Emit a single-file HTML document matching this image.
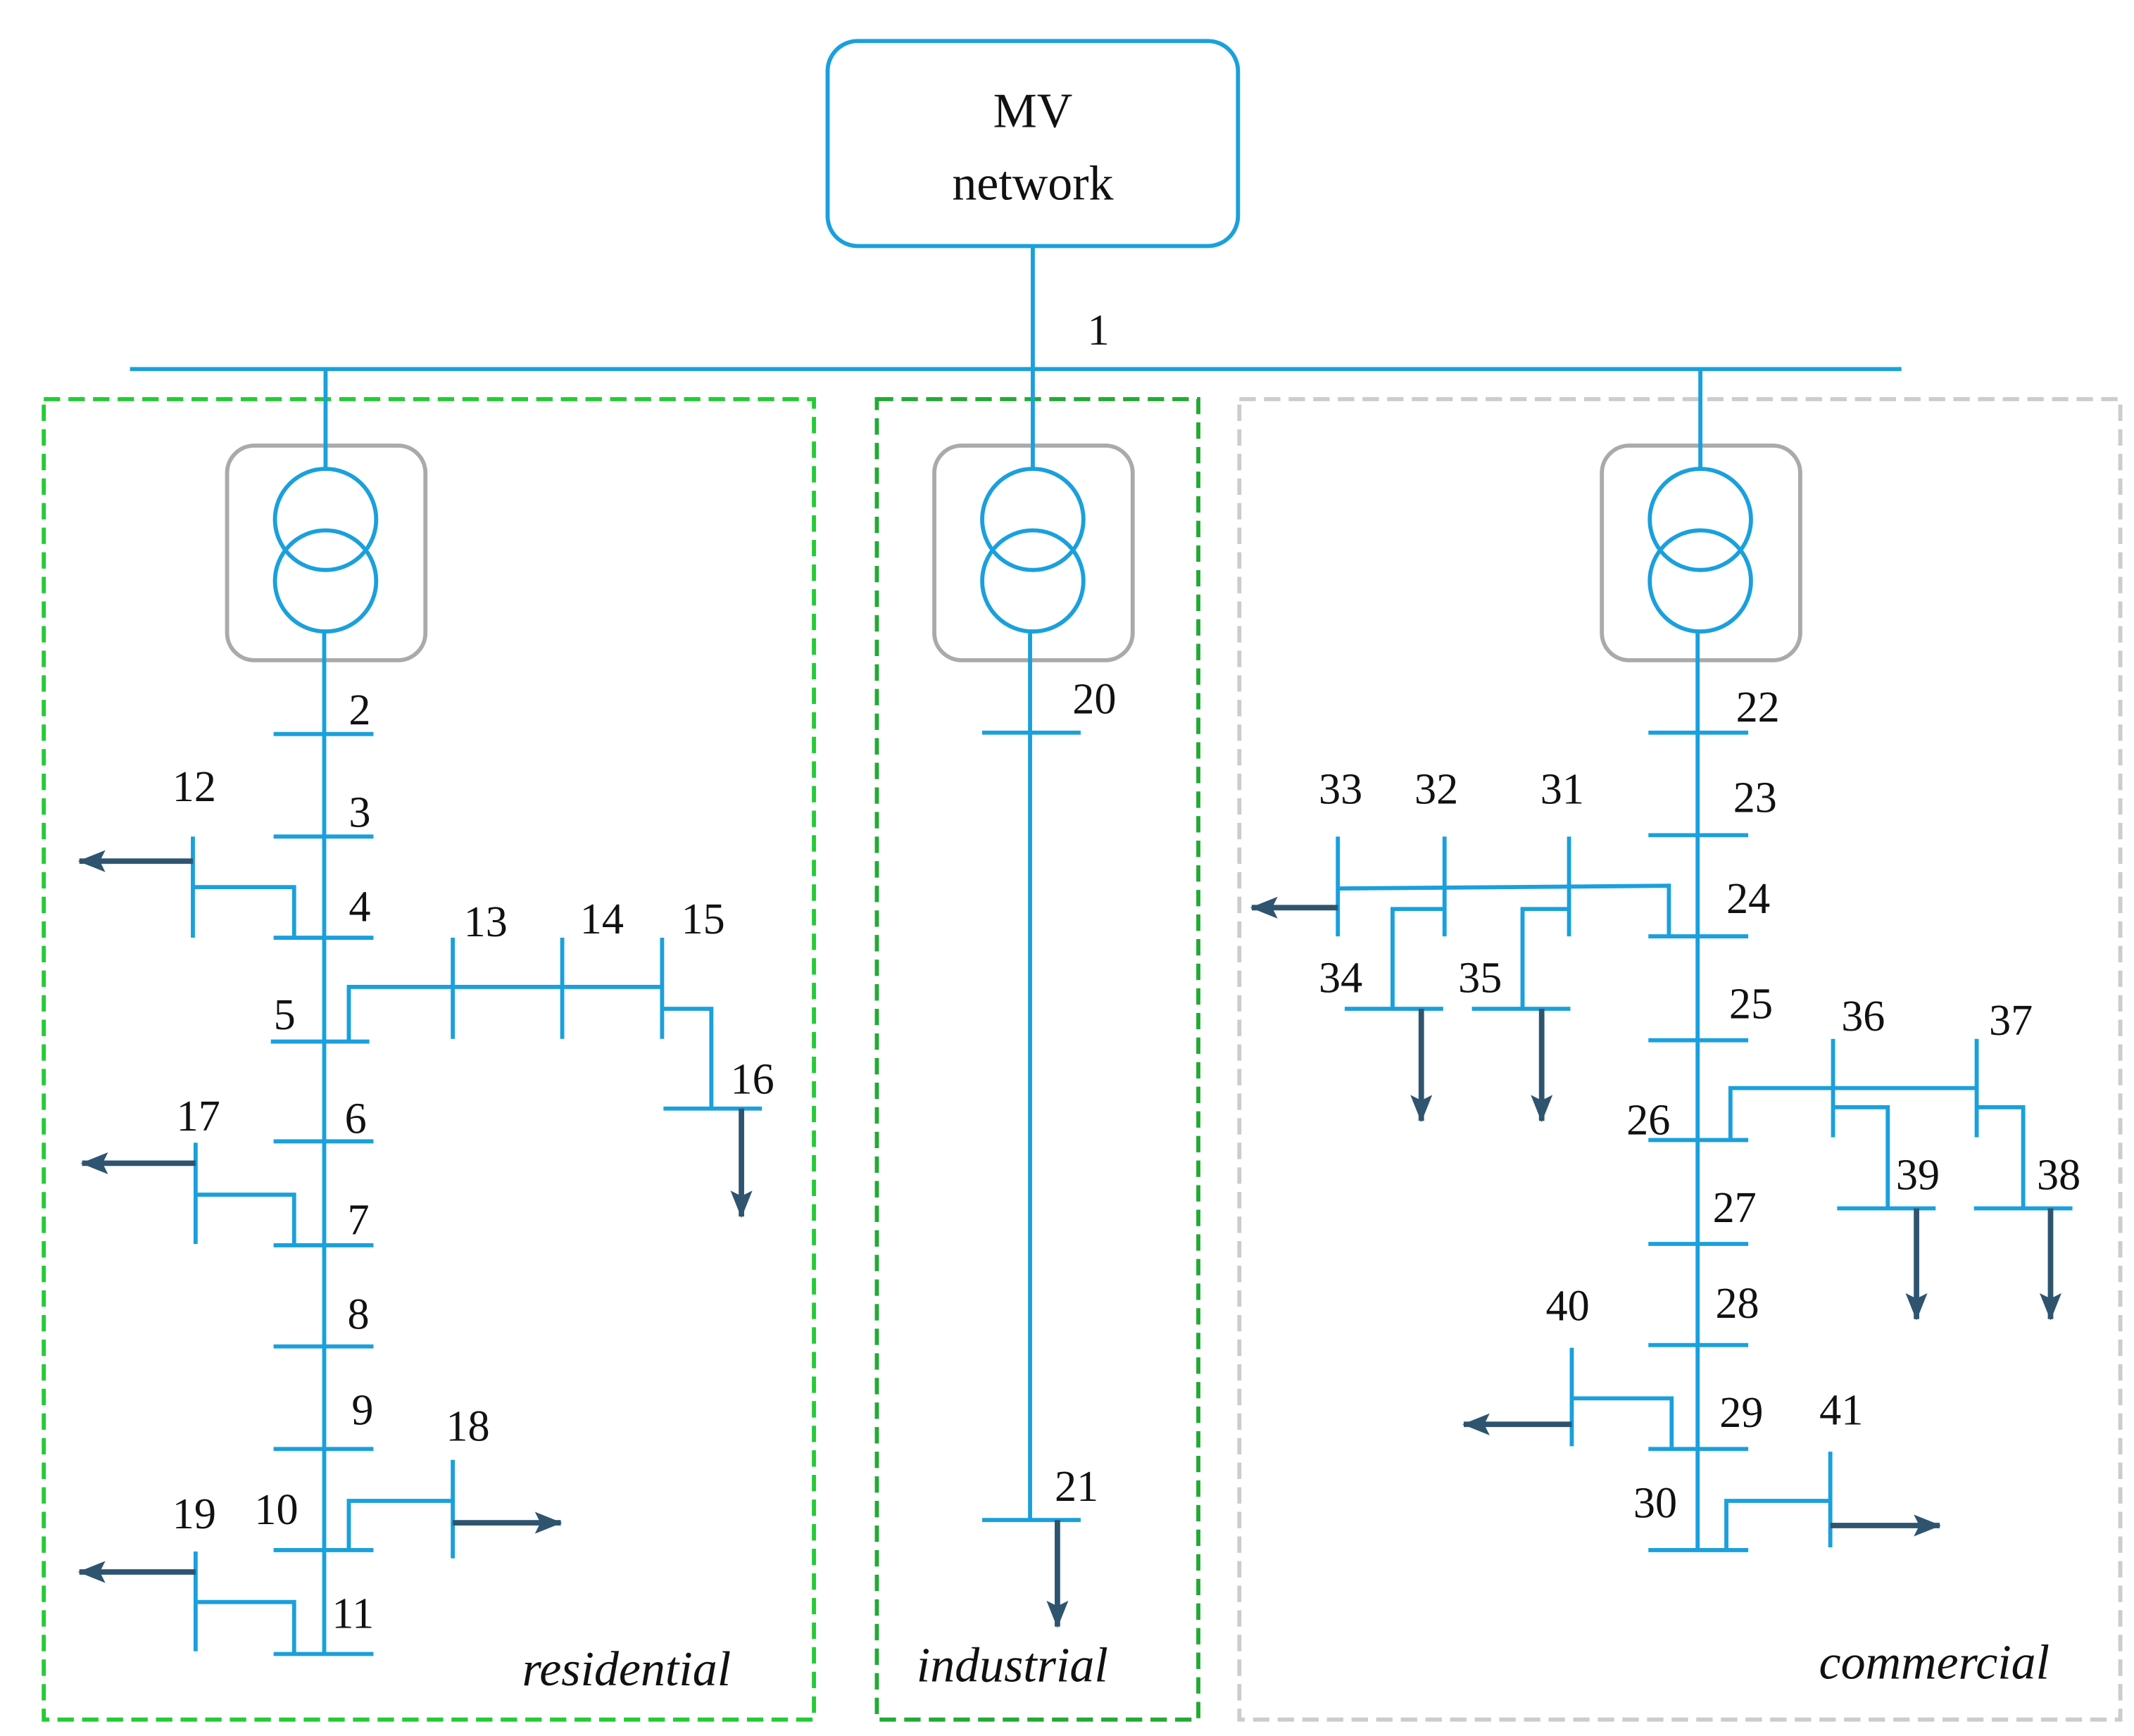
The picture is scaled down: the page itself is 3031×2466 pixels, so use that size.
<!DOCTYPE html>
<html><head><style>html,body{margin:0;padding:0;background:#fff}svg{display:block}</style></head>
<body>
<svg width="3031" height="2466" viewBox="0 0 1560 1270" preserveAspectRatio="none" xmlns="http://www.w3.org/2000/svg">
<defs>
<marker id="a" viewBox="0 0 20 20" refX="19" refY="10" markerWidth="20" markerHeight="20" orient="auto" markerUnits="userSpaceOnUse">
<path d="M0,2 L20,10 L0,18 L4,10 Z" fill="#2f5470"/>
</marker>
</defs>
<style>
.b{stroke:#1aa0dc;stroke-width:3;fill:none}
.ar{stroke:#2f5470;stroke-width:4;fill:none}
.t{font-family:"Liberation Serif",serif;font-size:32px;fill:#111;text-anchor:middle}
.i{font-family:"Liberation Serif",serif;font-size:36px;font-style:italic;fill:#111;text-anchor:middle}
</style>
<rect x="32" y="292" width="563" height="966" fill="none" stroke="#22cc33" stroke-width="3" stroke-dasharray="12 6"/>
<rect x="641" y="292" width="235" height="966" fill="none" stroke="#22aa33" stroke-width="3" stroke-dasharray="12 6"/>
<rect x="906" y="292" width="644" height="966" fill="none" stroke="#cccccc" stroke-width="3" stroke-dasharray="12 6"/>
<rect x="605" y="30" width="300" height="150" rx="22" class="b"/>
<text x="755" y="93" class="t" style="font-size:36px">MV</text>
<text x="755" y="146" class="t" style="font-size:36px">network</text>
<line x1="755" y1="180" x2="755" y2="270" class="b"/>
<line x1="95" y1="270" x2="1390" y2="270" class="b" stroke-width="4"/>
<text x="803" y="252" class="t">1</text>
<g>
<rect x="166" y="326" width="145" height="157" rx="20" fill="none" stroke="#aaa" stroke-width="3"/>
<line x1="238" y1="270" x2="238" y2="343" class="b"/>
<circle cx="238" cy="380" r="37" class="b"/><circle cx="238" cy="425" r="37" class="b"/>
<rect x="683" y="326" width="145" height="157" rx="20" fill="none" stroke="#aaa" stroke-width="3"/>
<line x1="755" y1="270" x2="755" y2="343" class="b"/>
<circle cx="755" cy="380" r="37" class="b"/><circle cx="755" cy="425" r="37" class="b"/>
<rect x="1171" y="326" width="145" height="157" rx="20" fill="none" stroke="#aaa" stroke-width="3"/>
<line x1="1243" y1="270" x2="1243" y2="343" class="b"/>
<circle cx="1243" cy="380" r="37" class="b"/><circle cx="1243" cy="425" r="37" class="b"/>
</g>
<line x1="237" y1="462" x2="237" y2="1210" class="b"/>
<g class="b">
<line x1="200" y1="537" x2="273" y2="537"/><line x1="200" y1="612" x2="273" y2="612"/>
<line x1="200" y1="686" x2="273" y2="686"/><line x1="198" y1="762" x2="270" y2="762"/>
<line x1="200" y1="835" x2="273" y2="835"/><line x1="200" y1="911" x2="273" y2="911"/>
<line x1="200" y1="985" x2="273" y2="985"/><line x1="200" y1="1060" x2="273" y2="1060"/>
<line x1="200" y1="1134" x2="273" y2="1134"/><line x1="200" y1="1210" x2="273" y2="1210"/>
<polyline points="215,686 215,649 141,649"/><line x1="141" y1="612" x2="141" y2="686"/>
<polyline points="255,762 255,722 484,722"/>
<line x1="331" y1="686" x2="331" y2="760"/><line x1="411" y1="686" x2="411" y2="760"/><line x1="484" y1="686" x2="484" y2="760"/>
<polyline points="484,738 520,738 520,811"/><line x1="485" y1="811" x2="557" y2="811"/>
<polyline points="215,911 215,874 143,874"/><line x1="143" y1="836" x2="143" y2="910"/>
<polyline points="255,1134 255,1098 331,1098"/><line x1="331" y1="1068" x2="331" y2="1140"/>
<polyline points="215,1210 215,1172 143,1172"/><line x1="143" y1="1135" x2="143" y2="1208"/>
</g>
<g class="ar">
<line x1="141" y1="630" x2="58" y2="630" marker-end="url(#a)"/>
<line x1="542" y1="811" x2="542" y2="890" marker-end="url(#a)"/>
<line x1="143" y1="851" x2="60" y2="851" marker-end="url(#a)"/>
<line x1="331" y1="1114" x2="410" y2="1114" marker-end="url(#a)"/>
<line x1="143" y1="1150" x2="58" y2="1150" marker-end="url(#a)"/>
</g>
<text x="263" y="530" class="t">2</text><text x="263" y="605" class="t">3</text>
<text x="263" y="674" class="t">4</text><text x="208" y="753" class="t">5</text>
<text x="260" y="829" class="t">6</text><text x="262" y="903" class="t">7</text>
<text x="262" y="972" class="t">8</text><text x="265" y="1042" class="t">9</text>
<text x="202" y="1115" class="t">10</text><text x="258" y="1191" class="t">11</text>
<text x="142" y="586" class="t">12</text><text x="355" y="685" class="t">13</text>
<text x="440" y="683" class="t">14</text><text x="514" y="683" class="t">15</text>
<text x="550" y="800" class="t">16</text><text x="145" y="827" class="t">17</text>
<text x="342" y="1054" class="t">18</text><text x="142" y="1118" class="t">19</text>
<text x="458" y="1233" class="i">residential</text>
<g class="b">
<line x1="753" y1="462" x2="753" y2="1112"/>
<line x1="718" y1="536" x2="790" y2="536"/><line x1="718" y1="1112" x2="790" y2="1112"/>
</g>
<line x1="773" y1="1112" x2="773" y2="1190" class="ar" marker-end="url(#a)"/>
<text x="800" y="522" class="t">20</text><text x="787" y="1098" class="t">21</text>
<text x="740" y="1230" class="i">industrial</text>
<g class="b">
<line x1="1241" y1="462" x2="1241" y2="1134"/>
<line x1="1205" y1="536" x2="1278" y2="536"/><line x1="1205" y1="611" x2="1278" y2="611"/>
<line x1="1205" y1="685" x2="1278" y2="685"/><line x1="1205" y1="761" x2="1278" y2="761"/>
<line x1="1205" y1="834" x2="1278" y2="834"/><line x1="1205" y1="910" x2="1278" y2="910"/>
<line x1="1205" y1="984" x2="1278" y2="984"/><line x1="1205" y1="1060" x2="1278" y2="1060"/>
<line x1="1205" y1="1134" x2="1278" y2="1134"/>
<polyline points="1220,685 1220,648 978,650"/>
<line x1="1147" y1="612" x2="1147" y2="685"/><line x1="1056" y1="612" x2="1056" y2="685"/><line x1="978" y1="612" x2="978" y2="685"/>
<polyline points="1056,665 1018,665 1018,738"/><line x1="983" y1="738" x2="1055" y2="738"/>
<polyline points="1147,665 1113,665 1113,738"/><line x1="1076" y1="738" x2="1148" y2="738"/>
<polyline points="1265,834 1265,796 1445,796"/>
<line x1="1340" y1="760" x2="1340" y2="832"/><line x1="1445" y1="760" x2="1445" y2="832"/>
<polyline points="1340,810 1380,810 1380,884"/><line x1="1343" y1="884" x2="1415" y2="884"/>
<polyline points="1445,810 1479,810 1479,884"/><line x1="1443" y1="884" x2="1515" y2="884"/>
<polyline points="1222,1060 1222,1023 1149,1023"/><line x1="1149" y1="986" x2="1149" y2="1058"/>
<polyline points="1262,1134 1262,1098 1338,1098"/><line x1="1338" y1="1062" x2="1338" y2="1132"/>
</g>
<g class="ar">
<line x1="978" y1="664" x2="915" y2="664" marker-end="url(#a)"/>
<line x1="1039" y1="738" x2="1039" y2="820" marker-end="url(#a)"/>
<line x1="1127" y1="738" x2="1127" y2="820" marker-end="url(#a)"/>
<line x1="1401" y1="884" x2="1401" y2="965" marker-end="url(#a)"/>
<line x1="1499" y1="884" x2="1499" y2="965" marker-end="url(#a)"/>
<line x1="1149" y1="1042" x2="1070" y2="1042" marker-end="url(#a)"/>
<line x1="1338" y1="1116" x2="1418" y2="1116" marker-end="url(#a)"/>
</g>
<text x="1285" y="528" class="t">22</text><text x="1283" y="594" class="t">23</text>
<text x="1278" y="668" class="t">24</text><text x="1280" y="745" class="t">25</text>
<text x="1205" y="830" class="t">26</text><text x="1268" y="894" class="t">27</text>
<text x="1270" y="964" class="t">28</text><text x="1273" y="1044" class="t">29</text>
<text x="1210" y="1110" class="t">30</text>
<text x="1142" y="588" class="t">31</text><text x="1050" y="588" class="t">32</text>
<text x="980" y="588" class="t">33</text><text x="980" y="726" class="t">34</text>
<text x="1082" y="726" class="t">35</text><text x="1362" y="754" class="t">36</text>
<text x="1470" y="757" class="t">37</text><text x="1505" y="870" class="t">38</text>
<text x="1402" y="870" class="t">39</text><text x="1146" y="966" class="t">40</text>
<text x="1346" y="1042" class="t">41</text>
<text x="1414" y="1228" class="i">commercial</text>
</svg>
</body></html>
